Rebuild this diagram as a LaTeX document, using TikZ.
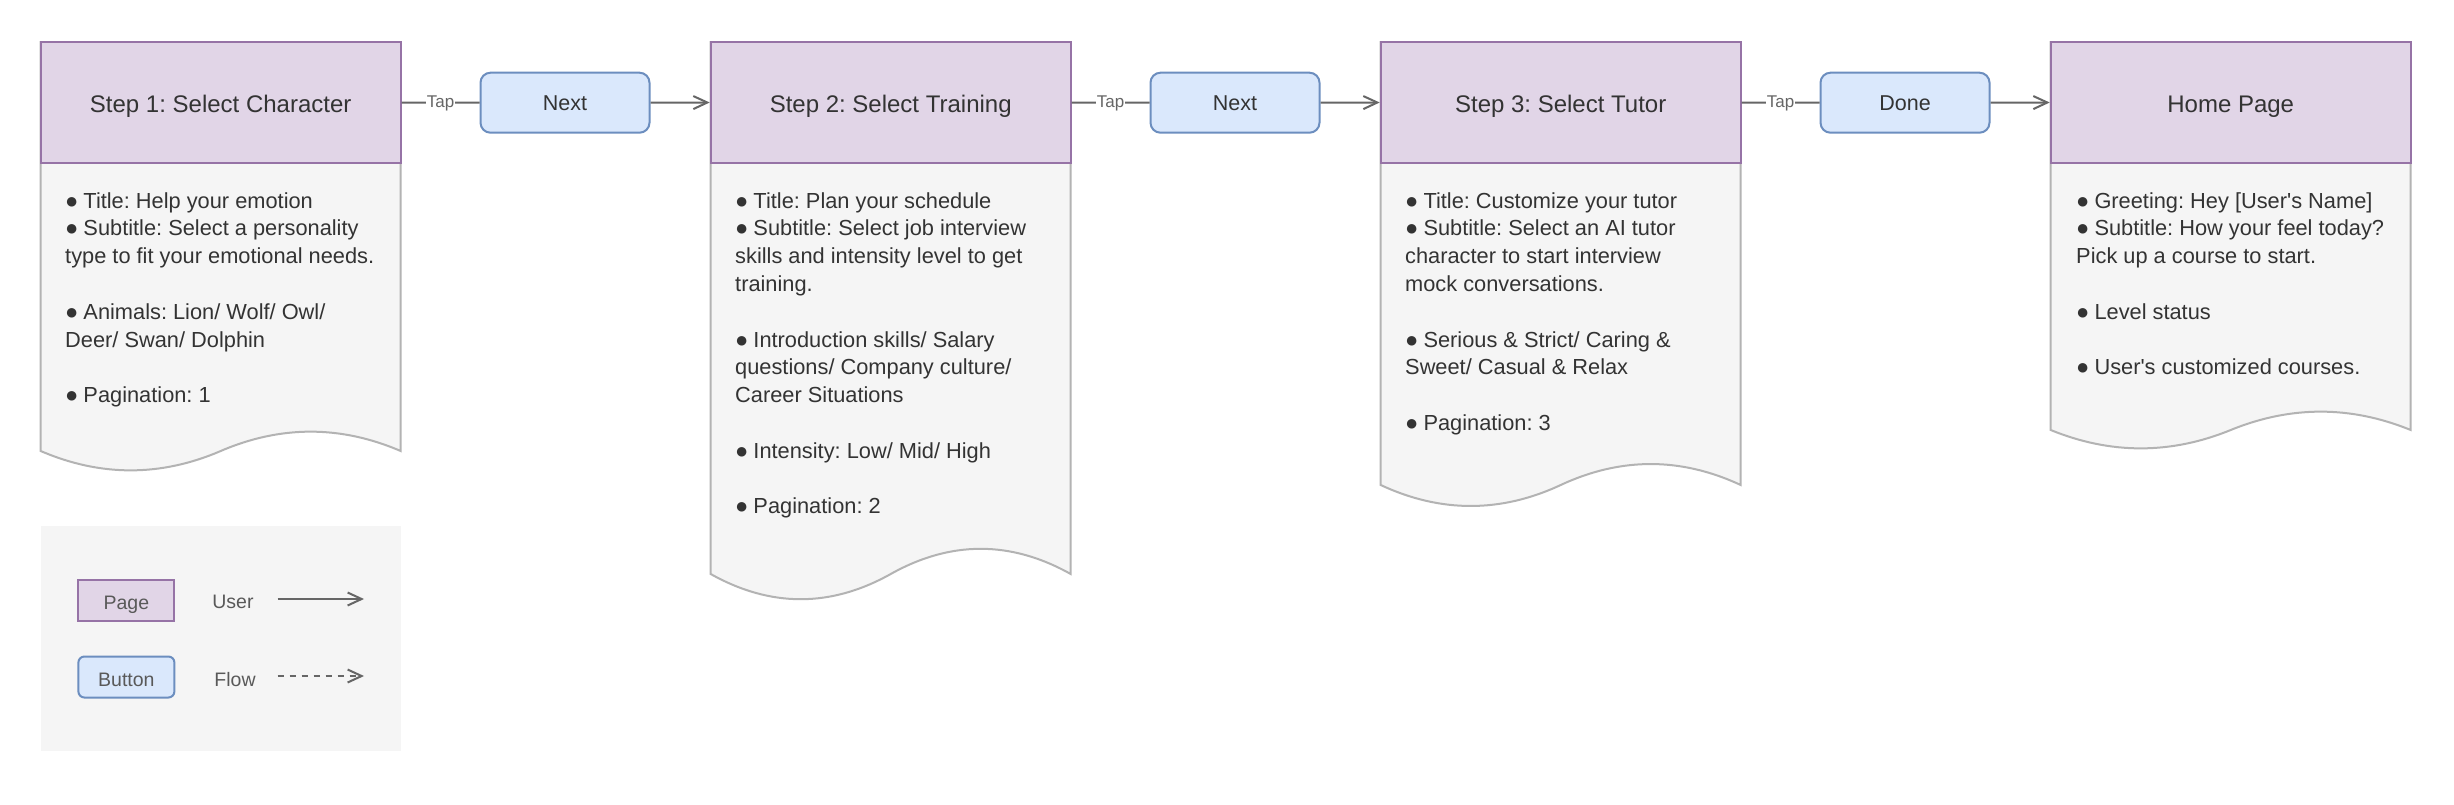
\documentclass[tikz,border=0pt]{standalone}
\usepackage{fontspec}
\setmainfont{Liberation Sans}[Ligatures=TeXOff]
\usetikzlibrary{arrows.meta}
\definecolor{pagefill}{HTML}{E1D5E7}
\definecolor{pagedraw}{HTML}{9673A6}
\definecolor{btnfill}{HTML}{DAE8FC}
\definecolor{btndraw}{HTML}{6C8EBF}
\definecolor{bodyfill}{HTML}{F5F5F5}
\definecolor{bodydraw}{HTML}{B3B3B3}
\definecolor{txt}{HTML}{333333}
\definecolor{linecol}{HTML}{666666}
\definecolor{legtxt}{HTML}{595959}
\frenchspacing
\newcommand\bul{{\fontsize{22}{22}\selectfont ●}\hspace{5pt}}
\newcommand\gap{\\[27.8pt]}
\newcommand\docbody[3]{%
  \path[bodyshape] (#1,42) -- ({#1+360},42) -- ({#1+360},#2)
    .. controls ({#1+300},{#2-0.6*#3}) and ({#1+240},{#2-0.6*#3}) .. ({#1+180},#2)
    .. controls ({#1+120},{#2+0.6*#3}) and ({#1+60},{#2+0.6*#3}) .. (#1,#2) -- cycle;}
\tikzset{
  bodyshape/.style={fill=bodyfill, draw=bodydraw, line width=2pt},
  pagebox/.style={rectangle, draw=pagedraw, fill=pagefill, line width=2pt, text=txt,
    minimum width=360pt, minimum height=121pt, inner sep=0pt, text height=20pt, text depth=0pt,
    font=\fontsize{24}{28}\selectfont},
  btnbox/.style={rectangle, rounded corners=10pt, draw=btndraw, fill=btnfill, line width=2pt, text=txt,
    minimum width=169pt, minimum height=60pt, inner sep=0pt, text height=15.4pt, text depth=0pt,
    font=\fontsize{21.5}{26}\selectfont},
  legbox/.style={minimum width=96pt, minimum height=41pt, text=legtxt, text height=19pt, text depth=0pt,
    font=\fontsize{19.5}{22}\selectfont},
  bodytext/.style={inner sep=0pt, anchor=base west, text=txt, font=\fontsize{21.8}{27.8}\selectfont},
  conn/.style={draw=linecol, line width=2pt},
  arr/.style={-{Straight Barb[length=14pt,width=13pt]}},
  taplabel/.style={fill=white, inner sep=1pt, text=linecol, text height=12.5pt, text depth=3.5pt,
    font=\fontsize{17}{19}\selectfont},
  legendbg/.style={rectangle, fill=bodyfill, minimum width=360pt, minimum height=225pt, inner sep=0pt},
  legendtext/.style={text=legtxt, inner sep=0pt, text height=14pt, text depth=0pt,
    font=\fontsize{19.5}{22}\selectfont},
}
\begin{document}
\begin{tikzpicture}[x=1pt, y=-1pt]
\useasboundingbox[fill=white] (0,0) rectangle (2454,804);

% document bodies
\docbody{40.7}{451}{43}
\docbody{710.7}{574}{56}
\docbody{1380.7}{485}{46.6}
\docbody{2050.7}{430}{40.8}

% headers
\node[pagebox] (h1) at (220.7,102.5) {Step 1: Select Character};
\node[pagebox] (h2) at (890.7,102.5) {Step 2: Select Training};
\node[pagebox] (h3) at (1560.7,102.5) {Step 3: Select Tutor};
\node[pagebox] (h4) at (2230.7,102.5) {Home Page};

% buttons
\node[btnbox] (b1) at (565,102.7) {Next};
\node[btnbox] (b2) at (1235,102.7) {Next};
\node[btnbox] (b3) at (1905,102.7) {Done};

% connectors
\draw[conn] (h1.east) -- node[taplabel] (tap1) {Tap} (b1.west);
\draw[conn, arr] (b1.east) -- (h2.west);
\draw[conn] (h2.east) -- node[taplabel] (tap2) {Tap} (b2.west);
\draw[conn, arr] (b2.east) -- (h3.west);
\draw[conn] (h3.east) -- node[taplabel] (tap3) {Tap} (b3.west);
\draw[conn, arr] (b3.east) -- (h4.west);

% body texts
\node[bodytext] (t1) at (65,208) {\parbox[t]{330pt}{%
\bul Title: Help your emotion\\
\bul Subtitle: Select a personality\\
type to fit your emotional needs.\gap
\bul Animals: Lion/ Wolf/ Owl/\\
Deer/ Swan/ Dolphin\gap
\bul Pagination: 1}};

\node[bodytext] (t2) at (735,208) {\parbox[t]{330pt}{%
\bul Title: Plan your schedule\\
\bul Subtitle: Select job interview\\
skills and intensity level to get\\
training.\gap
\bul Introduction skills/ Salary\\
questions/ Company culture/\\
Career Situations\gap
\bul Intensity: Low/ Mid/ High\gap
\bul Pagination: 2}};

\node[bodytext] (t3) at (1405,208) {\parbox[t]{330pt}{%
\bul Title: Customize your tutor\\
\bul Subtitle: Select an AI tutor\\
character to start interview\\
mock conversations.\gap
\bul Serious \& Strict/ Caring \&\\
Sweet/ Casual \& Relax\gap
\bul Pagination: 3}};

\node[bodytext] (t4) at (2076,208) {\parbox[t]{330pt}{%
\bul Greeting: Hey [User's Name]\\
\bul Subtitle: How your feel today?\\
Pick up a course to start.\gap
\bul Level status\gap
\bul User's customized courses.}};

% legend
\node[legendbg] (lg) at (220.65,638.5) {};
\node[pagebox, legbox] (lpage) at (126.4,600) {Page};
\node[btnbox, legbox, rounded corners=6pt] (lbtn) at (126.4,677) {Button};
\node[legendtext] (luser) at (233,601) {User};
\node[legendtext] (lflow) at (235,679) {Flow};
\coordinate (ua) at (277.5,599);
\coordinate (ub) at (364,599);
\coordinate (fa) at (277.5,676);
\coordinate (fb) at (364,676);
\draw[conn, arr] (ua) -- (ub);
\draw[conn, arr, dash pattern=on 6pt off 6pt] (fa) -- (fb);
\end{tikzpicture}
\end{document}
